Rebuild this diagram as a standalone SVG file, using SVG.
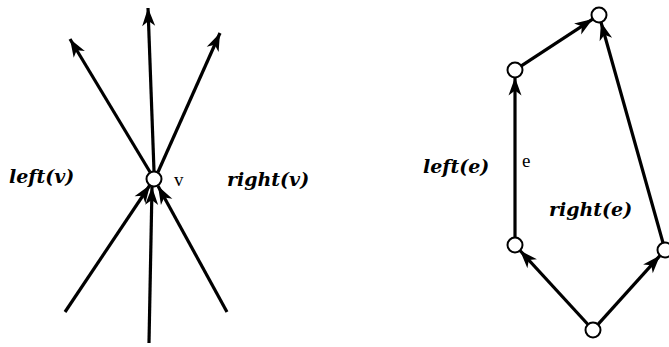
<svg xmlns="http://www.w3.org/2000/svg" width="669" height="347" viewBox="0 0 669 347">
<style>
.e{stroke:#000;stroke-width:3.2;fill:none;marker-end:url(#ah)}
.n{fill:#fff;stroke:#000;stroke-width:2}
.lb{font-family:"DejaVu Serif","Liberation Serif",serif;font-weight:bold;font-style:italic;font-size:19px;fill:#000}
.sm{font-family:"Liberation Serif","Times New Roman",serif;font-size:19px;fill:#000}
</style>
<defs>
<marker id="ah" markerUnits="userSpaceOnUse" markerWidth="22" markerHeight="16" refX="19" refY="7" orient="auto" viewBox="0 0 22 14">
<path d="M19,7 L1,0.5 L6,7 L1,13.5 z" fill="#000"/>
</marker>
</defs>
<rect width="669" height="347" fill="#fff"/>
<g id="connectors">
<line class="e" x1="150" y1="172" x2="70" y2="39"/>
<line class="e" x1="154" y1="171" x2="148" y2="8"/>
<line class="e" x1="158" y1="172" x2="220" y2="33"/>
<line class="e" x1="65" y1="312" x2="150" y2="185"/>
<line class="e" x1="149" y1="343" x2="152" y2="187"/>
<line class="e" x1="227" y1="312" x2="158" y2="186"/>
<line class="e" x1="588" y1="324.5" x2="520" y2="250.5"/>
<line class="e" x1="598" y1="324.4" x2="660" y2="255.6"/>
<line class="e" x1="515" y1="237.5" x2="515" y2="77.5"/>
<line class="e" x1="521.3" y1="65.9" x2="592.7" y2="19.1"/>
<line class="e" x1="663" y1="242.8" x2="601" y2="22.2"/>
</g>
<g id="node-v"><circle class="n" cx="154" cy="179" r="7.5"/></g>
<g id="node-top"><circle class="n" cx="599" cy="15" r="7.5"/></g>
<g id="node-ul"><circle class="n" cx="515" cy="70" r="7.5"/></g>
<g id="node-ll"><circle class="n" cx="515" cy="245" r="7.5"/></g>
<g id="node-r"><circle class="n" cx="665" cy="250" r="7.5"/></g>
<g id="node-b"><circle class="n" cx="593" cy="330" r="7.5"/></g>
<g id="labels">
<text class="lb" x="9" y="183">left(v)</text>
<text class="sm" x="174" y="186" font-size="17">v</text>
<text class="lb" x="227" y="186">right(v)</text>
<text class="lb" x="423" y="173">left(e)</text>
<text class="sm" x="522" y="167" font-size="20">e</text>
<text class="lb" x="549" y="216">right(e)</text>
</g>
</svg>
